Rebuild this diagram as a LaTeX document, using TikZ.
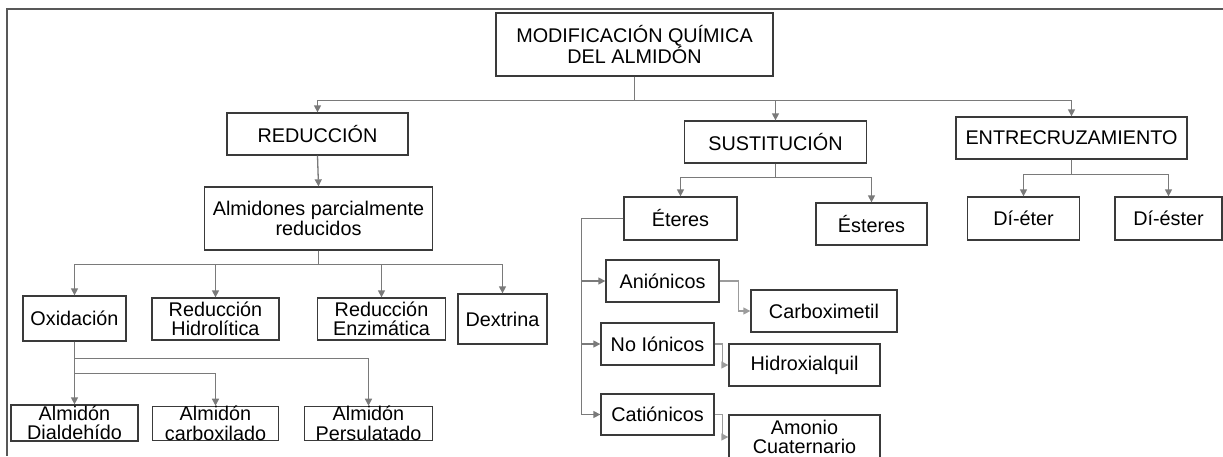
\documentclass[tikz,border=0pt]{standalone}
\usepackage{fontspec}
\setmainfont{Liberation Sans}
\usetikzlibrary{arrows.meta}
\definecolor{borde}{HTML}{3A3A3A}
\definecolor{linea}{HTML}{7A7A7A}
\definecolor{lineaclara}{HTML}{9C9C9C}
\tikzstyle{caja} = [draw=borde, line width=1.3pt, inner sep=0pt, align=center, font=\fontsize{19.8}{19.5}\selectfont]
\tikzstyle{flecha} = [draw=linea, line width=1.3pt, -{Triangle[length=7pt,width=7pt]}]
\tikzstyle{flechaclara} = [flecha, draw=lineaclara]

\begin{document}
\begin{tikzpicture}[x=1pt, y=-1pt]
	\useasboundingbox (0,0) rectangle (1223,456);
	\clip (0,0) rectangle (1223,456);
	\draw[draw=borde!85, line width=1.6pt] (1223,9) -- (7,9) -- (7,456);

	\node[caja, minimum width=277pt, minimum height=63pt] (root) at (634.5,44.5) {MODIFICACIÓN QUÍMICA\\DEL ALMIDÓN};

	\node[caja, minimum width=181pt, minimum height=42pt] (red) at (317.5,134) {REDUCCIÓN};
	\node[caja, minimum width=182pt, minimum height=42pt] (sus) at (775.5,142) {SUSTITUCIÓN};
	\node[caja, minimum width=231pt, minimum height=42pt] (ent) at (1071.5,138) {ENTRECRUZAMIENTO};

	\node[caja, minimum width=228pt, minimum height=63pt] (alm) at (318.5,218.5) {Almidones parcialmente\\reducidos};
	\node[caja, minimum width=113pt, minimum height=43pt] (ete) at (680.5,218.5) {Éteres};
	\node[caja, minimum width=111pt, minimum height=42pt] (est) at (871.5,224) {Ésteres};
	\node[caja, minimum width=112pt, minimum height=43pt] (dieter) at (1023.5,218.5) {Dí-éter};
	\node[caja, minimum width=107pt, minimum height=43pt] (diester) at (1168.5,218.5) {Dí-éster};

	\node[caja, minimum width=103pt, minimum height=45pt] (oxi) at (74.5,318.5) {Oxidación};
	\node[caja, minimum width=127pt, minimum height=42pt] (hid) at (215.5,319) {Reducción\\Hidrolítica};
	\node[caja, minimum width=128pt, minimum height=42pt] (enz) at (381.5,319) {Reducción\\Enzimática};
	\node[caja, minimum width=89pt, minimum height=50pt] (dex) at (502.5,319) {Dextrina};

	\node[caja, minimum width=127pt, minimum height=36pt] (dial) at (74.5,423) {Almidón\\Dialdehído};
	\node[caja, minimum width=126pt, minimum height=33pt] (carb) at (215.5,423.5) {Almidón\\carboxilado};
	\node[caja, minimum width=128pt, minimum height=33pt] (pers) at (368.5,423.5) {Almidón\\Persulatado};

	\node[caja, minimum width=113pt, minimum height=42pt] (ani) at (662.5,281) {Aniónicos};
	\node[caja, minimum width=113pt, minimum height=42pt] (noi) at (657.5,344) {No Iónicos};
	\node[caja, minimum width=113pt, minimum height=41pt] (cat) at (657.5,414.5) {Catiónicos};
	\node[caja, minimum width=146pt, minimum height=42pt] (cbx) at (824,311) {Carboximetil};
	\node[caja, minimum width=151pt, minimum height=42pt] (hidx) at (804.5,365) {Hidroxialquil};
	\node[caja, minimum width=151pt, minimum height=44pt] (amo) at (804.5,437) {Amonio\\Cuaternario};

	\draw[flecha] (root.south) -- ++(0,24) -| (red.north);
	\draw[flecha] (root.south) -- ++(0,24) -| (sus.north);
	\draw[flecha] (root.south) -- ++(0,24) -| (ent.north);

	\draw[flecha] (red.south) -- (alm.north);
	\draw[flecha] (alm.south) -- ++(0,14) -| (oxi.north);
	\draw[flecha] (alm.south) -- ++(0,14) -| (hid.north);
	\draw[flecha] (alm.south) -- ++(0,14) -| (enz.north);
	\draw[flecha] (alm.south) -- ++(0,14) -| (dex.north);

	\draw[flecha] (oxi.south) -- (dial.north);
	\draw[flecha] (oxi.south) -- ++(0,32) -| (carb.north);
	\draw[flecha] (oxi.south) -- ++(0,17) -| (pers.north);

	\draw[flecha] (sus.south) -- ++(0,14) -| (ete.north);
	\draw[flecha] (sus.south) -- ++(0,14) -| (est.north);
	\draw[flecha] (ent.south) -- ++(0,15) -| (dieter.north);
	\draw[flecha] (ent.south) -- ++(0,15) -| (diester.north);

	\draw[flecha] (ete.west) -- ++(-42,0) |- (ani.west);
	\draw[flecha] (ete.west) -- ++(-42,0) |- (noi.west);
	\draw[flecha] (ete.west) -- ++(-42,0) |- (cat.west);
	\draw[flechaclara] (ani.east) -- ++(19,0) |- (cbx.west);
	\draw[flechaclara] (noi.east) -- ++(8,0) |- (hidx.west);
	\draw[flechaclara] (cat.east) -- ++(8,0) |- (amo.west);
\end{tikzpicture}
\end{document}
